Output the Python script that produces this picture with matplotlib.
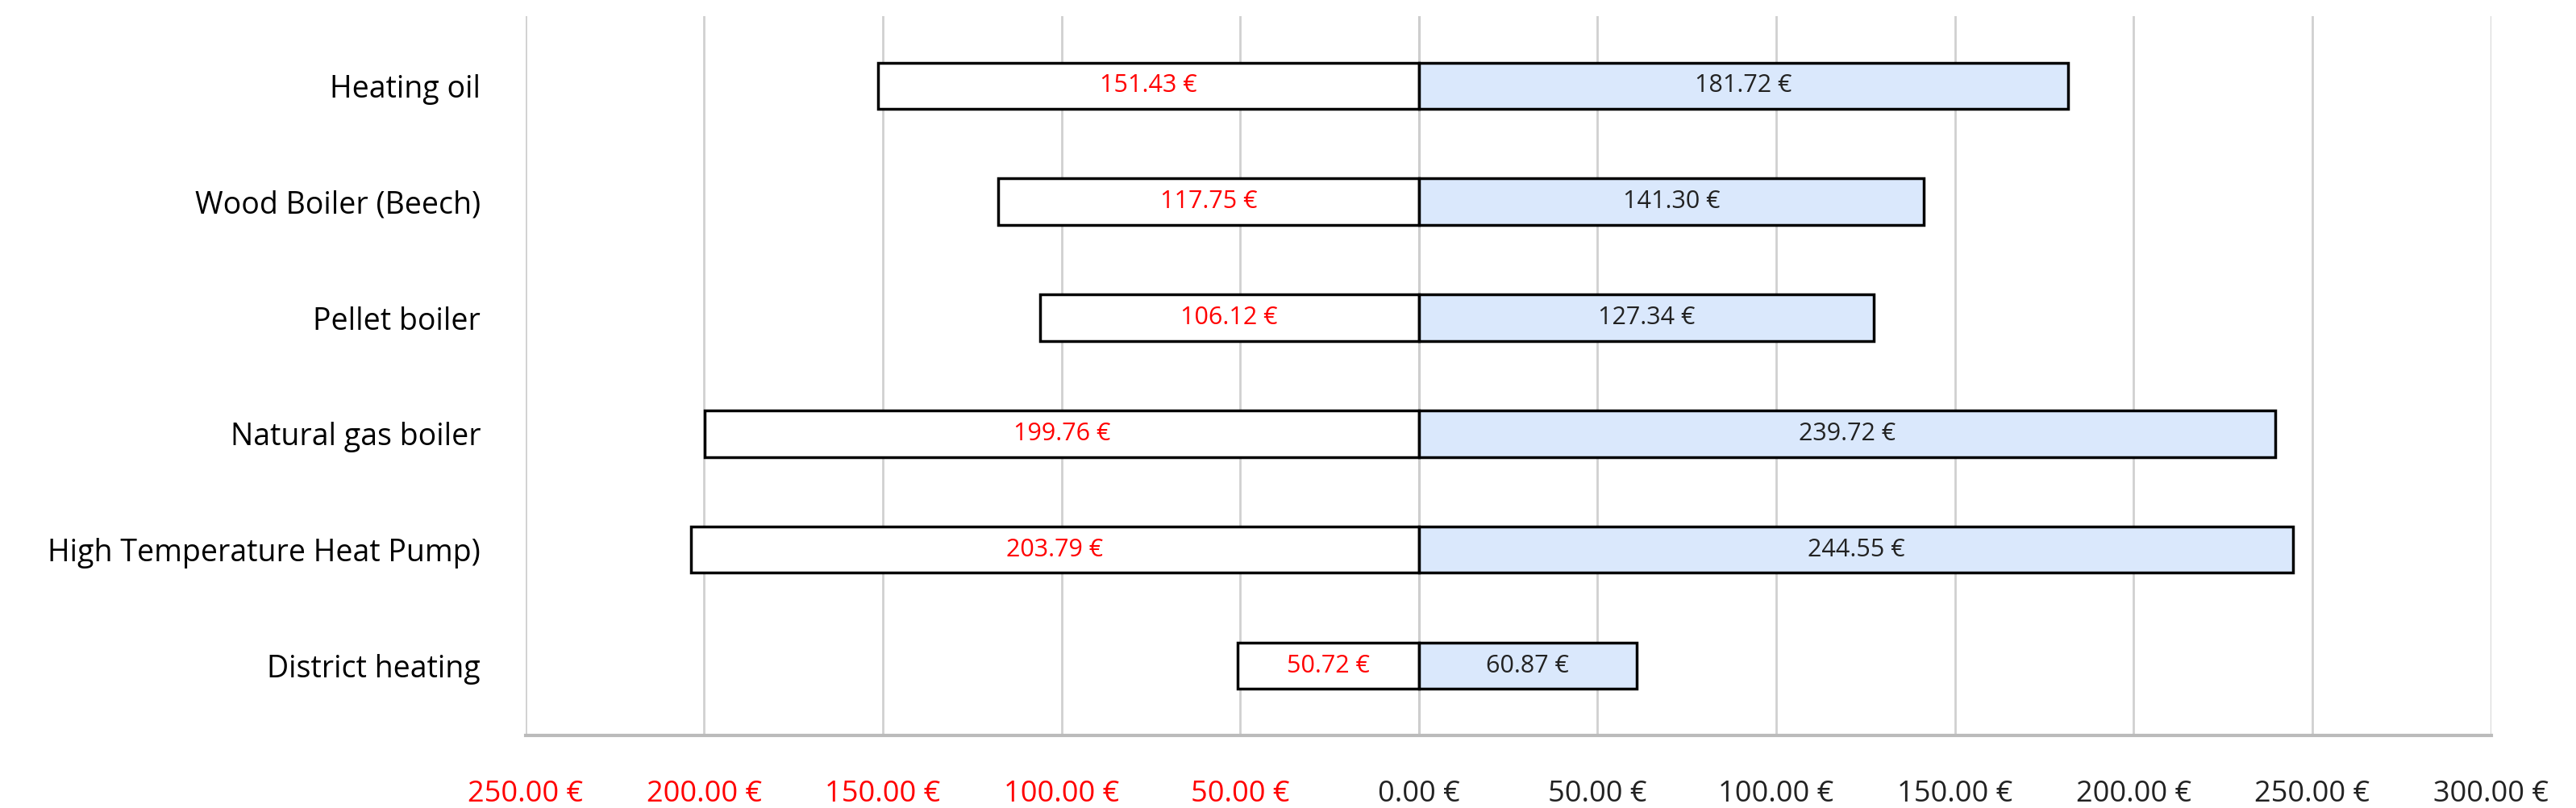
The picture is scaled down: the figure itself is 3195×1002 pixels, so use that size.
import matplotlib
matplotlib.use("Agg")
import matplotlib.pyplot as plt

categories = ["Heating oil", "Wood Boiler (Beech)", "Pellet boiler", "Natural gas boiler",
              "High Temperature Heat Pump)", "District heating"]
left_values = [151.43, 117.75, 106.12, 199.76, 203.79, 50.72]
right_values = [181.72, 141.30, 127.34, 239.72, 244.55, 60.87]
ticks = [-250, -200, -150, -100, -50, 0, 50, 100, 150, 200, 250, 300]

plt.rcParams['font.family'] = ['Liberation Sans Narrow', 'Open Sans', 'DejaVu Sans']
fig = plt.figure(figsize=(31.95, 10.02), dpi=100)
ax = fig.add_axes([0.204, 0.09, 0.763, 0.89])

y = list(range(len(categories)))
ax.barh(y, [-v for v in left_values], height=0.4, color="white", edgecolor="black", linewidth=2.5, zorder=3)
ax.barh(y, right_values, height=0.4, color="#dae8fc", edgecolor="black", linewidth=2.5, zorder=3)
for i, (l, r) in enumerate(zip(left_values, right_values)):
    ax.text(-l / 2, i, f"{l:.2f} €", color="red", ha="center", va="center", fontsize=22, zorder=4)
    ax.text(r / 2, i, f"{r:.2f} €", color="#222222", ha="center", va="center", fontsize=22, zorder=4)

ax.set_xlim(-250, 300)
ax.set_ylim(len(categories) - 0.5 + 0.1, -0.6)
ax.set_yticks(y)
ax.set_yticklabels(categories, fontsize=27)
ax.set_xticks(ticks)
ax.set_xticklabels([f"{abs(t):.2f} €" for t in ticks], fontsize=26)
for lab, t in zip(ax.get_xticklabels(), ticks):
    lab.set_color("red" if t < 0 else "#222222")
ax.tick_params(axis="both", length=0, pad=40)
ax.tick_params(axis="y", pad=40)
ax.xaxis.grid(True, color="#d0d0d0", linewidth=2, zorder=0)
ax.axvline(0, color="#999999", linewidth=2, zorder=1)
for s in ["top", "right", "left"]:
    ax.spines[s].set_visible(False)
ax.spines["bottom"].set_color("#bbbbbb")
ax.spines["bottom"].set_linewidth(3)
fig.savefig("out.png", dpi=100)
